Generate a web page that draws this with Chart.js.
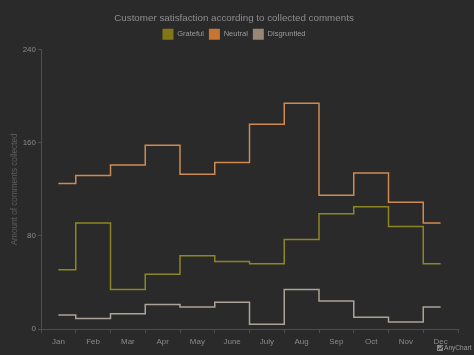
<!DOCTYPE html>
<html>
<head>
<meta charset="utf-8">
<script src="https://cdn.jsdelivr.net/npm/chart.js@4/dist/chart.umd.min.js"></script>
<style>
  html, body { margin: 0; padding: 0; background: #2a2a2a; }
  #wrap { width: 474px; height: 355px; position: relative; }
</style>
</head>
<body>
<div id="wrap"><canvas id="c" width="474" height="355"></canvas></div>
<script>
const months = ['Jan','Feb','Mar','Apr','May','June','July','Aug','Sep','Oct','Nov','Dec'];
const grateful = [51, 91, 34, 47, 63, 58, 56, 77, 99, 105, 88, 56];
const neutral = [125, 132, 141, 158, 133, 143, 176, 194, 115, 134, 109, 91];
const disgruntled = [12, 9, 13, 21, 19, 23, 4, 34, 24, 10, 6, 19];
const yTicks = [0, 80, 160, 240];

const FONT = '"Liberation Sans", Arial, sans-serif';

const creditPlugin = {
  id: 'credit',
  afterDraw(chart) {
    const ctx = chart.ctx;
    ctx.save();
    ctx.fillStyle = '#8a8a8a';
    ctx.fillRect(437, 345, 6, 6);
    ctx.strokeStyle = '#2a2a2a';
    ctx.lineWidth = 1;
    ctx.beginPath();
    ctx.moveTo(438, 350); ctx.lineTo(439.5, 348); ctx.lineTo(441, 349); ctx.lineTo(442.5, 346);
    ctx.stroke();
    ctx.font = '6.6px ' + FONT;
    ctx.fillStyle = '#9a9a9a';
    ctx.textBaseline = 'middle';
    ctx.fillText('AnyChart', 444, 348.5);
    ctx.restore();
  }
};

new Chart(document.getElementById('c'), {
  type: 'line',
  data: {
    labels: months,
    datasets: [
      { label: 'Grateful', data: grateful, borderColor: '#8c8724', backgroundColor: '#827717' },
      { label: 'Neutral', data: neutral, borderColor: '#cf8a52', backgroundColor: '#c77532' },
      { label: 'Disgruntled', data: disgruntled, borderColor: '#aca398', backgroundColor: '#998675' }
    ].map(d => Object.assign(d, { stepped: 'middle', borderWidth: 1.5, pointRadius: 0, fill: false }))
  },
  options: {
    responsive: false,
    animation: false,
    layout: { padding: { left: 10, right: 16, top: 1, bottom: 0 } },
    plugins: {
      title: {
        display: true,
        text: 'Customer satisfaction according to collected comments',
        color: '#8e8e8e',
        font: { family: FONT, size: 9.8, weight: 'normal' },
        padding: { top: 11, bottom: 0 }
      },
      legend: {
        display: true,
        labels: {
          color: '#9a9a9a',
          font: { family: FONT, size: 7.5 },
          boxWidth: 11, boxHeight: 11, padding: 5,
          generateLabels(chart) {
            return chart.data.datasets.map((d, i) => ({
              text: d.label, fillStyle: d.backgroundColor, strokeStyle: d.backgroundColor,
              lineWidth: 0, fontColor: '#9a9a9a', datasetIndex: i, hidden: false
            }));
          }
        }
      },
      tooltip: { enabled: false }
    },
    scales: {
      x: {
        offset: true,
        grid: { offset: true, drawOnChartArea: false, drawTicks: true, tickLength: 4, color: '#4e4e4e' },
        border: { color: '#4e4e4e' },
        ticks: { color: '#8a8a8a', font: { family: FONT, size: 8 }, padding: 4, maxRotation: 0, autoSkip: false },
        afterFit(s) { s.height = 26; }
      },
      y: {
        min: 0, max: 240,
        afterBuildTicks(s) { s.ticks = yTicks.map(v => ({ value: v })); },
        grid: { drawOnChartArea: false, drawTicks: true, tickLength: 3, color: '#4e4e4e' },
        border: { color: '#4e4e4e' },
        ticks: { color: '#8a8a8a', font: { family: FONT, size: 8 }, padding: 2 },
        title: {
          display: true, text: 'Amount of comments collected', color: '#5e5e5e',
          font: { family: FONT, size: 8.2 },
          padding: { top: 0, bottom: 0 }
        },
        afterFit(s) { s.width = 31; }
      }
    }
  },
  plugins: [creditPlugin]
});
</script>
</body>
</html>
